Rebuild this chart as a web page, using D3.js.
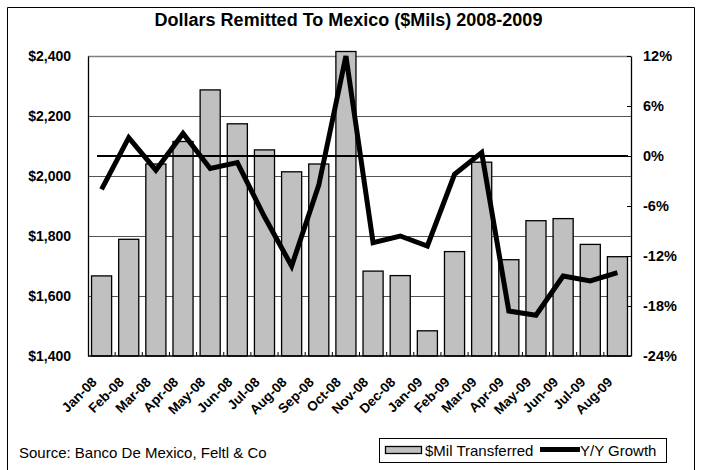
<!DOCTYPE html>
<html>
<head>
<meta charset="utf-8">
<script src="https://cdn.jsdelivr.net/npm/d3@7"></script>
<style>
  html, body { margin: 0; padding: 0; background: #fff; }
  svg { display: block; font-family: Arial, "Liberation Sans", sans-serif; }
</style>
</head>
<body>
<svg id="chart" width="701" height="470"></svg>
<script>
const months = ["Jan-08","Feb-08","Mar-08","Apr-08","May-08","Jun-08","Jul-08","Aug-08","Sep-08","Oct-08",
                "Nov-08","Dec-08","Jan-09","Feb-09","Mar-09","Apr-09","May-09","Jun-09","Jul-09","Aug-09"];
const transferred = [1667, 1789, 2040, 2115, 2287, 2174, 2087, 2014, 2040, 2415,
                     1683, 1668, 1484, 1748, 2046, 1721, 1851, 1858, 1772, 1731];
const yoyGrowth = [-4.0, 2.2, -1.7, 2.7, -1.5, -0.8, -7.3, -13.2, -3.5, 12.0,
                   -10.4, -9.6, -10.8, -2.2, 0.4, -18.6, -19.1, -14.4, -15.0, -14.0];
const leftTicks = [1400, 1600, 1800, 2000, 2200, 2400];
const rightTicks = [-24, -18, -12, -6, 0, 6, 12];

const FONT = "Arial, 'Liberation Sans', sans-serif";
const svg = d3.select("#chart");
const plot = { left: 88, right: 631, top: 56, bottom: 356 };

// outer frame
svg.append("path")
  .attr("d", "M7.5,480 V7.5 H694.5 V480")
  .attr("fill", "none").attr("stroke", "#000").attr("stroke-width", 1);

// title
svg.append("text")
  .attr("x", 348.5).attr("y", 26)
  .attr("text-anchor", "middle")
  .attr("font-size", 18).attr("font-weight", "bold")
  .text("Dollars Remitted To Mexico ($Mils) 2008-2009");

const x = d3.scaleBand().domain(months).range([plot.left, plot.right]).paddingInner(0.26).paddingOuter(0.13);
const xc = d => x(d) + x.bandwidth() / 2;
const yL = d3.scaleLinear().domain([1400, 2400]).range([plot.bottom, plot.top]);
const yR = d3.scaleLinear().domain([-24, 12]).range([plot.bottom, plot.top]);

// gridlines
svg.append("g").selectAll("line").data(leftTicks.filter(t => t > 1400))
  .join("line")
  .attr("x1", plot.left).attr("x2", plot.right)
  .attr("y1", d => Math.round(yL(d)) + 0.5).attr("y2", d => Math.round(yL(d)) + 0.5)
  .attr("stroke", d => d === 2400 ? "#808080" : "#555").attr("stroke-width", d => d === 2400 ? 1.5 : 1);

// bars
svg.append("g").selectAll("rect").data(months)
  .join("rect")
  .attr("x", d => x(d))
  .attr("width", x.bandwidth())
  .attr("y", (d, i) => yL(transferred[i]))
  .attr("height", (d, i) => plot.bottom - yL(transferred[i]))
  .attr("fill", "#c0c0c0").attr("stroke", "#000").attr("stroke-width", 1.3);

// zero line (right axis)
svg.append("line")
  .attr("x1", plot.left + 9).attr("x2", plot.right - 3)
  .attr("y1", yR(0)).attr("y2", yR(0))
  .attr("stroke", "#000").attr("stroke-width", 2);

// left axis
const axL = svg.append("g").attr("transform", `translate(${plot.left},0)`)
  .call(d3.axisLeft(yL).tickValues(leftTicks).tickSize(0).tickPadding(17)
        .tickFormat(d => "$" + d3.format(",")(d)));
axL.select(".domain").attr("stroke", "#000").attr("stroke-width", 1.3);
axL.selectAll("text").attr("font-size", 14).attr("font-weight", "bold").attr("font-family", FONT).attr("fill", "#000");

// right axis
const axR = svg.append("g").attr("transform", `translate(${plot.right},0)`)
  .call(d3.axisRight(yR).tickValues(rightTicks).tickSizeInner(-4).tickSizeOuter(0).tickPadding(12)
        .tickFormat(d => d + "%"));
axR.select(".domain").attr("stroke", "#000").attr("stroke-width", 1.3);
axR.selectAll(".tick line").attr("stroke", "#000");
axR.selectAll("text").attr("font-size", 14.5).attr("font-weight", "bold").attr("font-family", FONT).attr("fill", "#000");

// bottom axis
const step = x.step();
const axB = svg.append("g").attr("transform", `translate(0,${plot.bottom})`);
axB.append("line").attr("x1", plot.left).attr("x2", plot.right).attr("y1", 0).attr("y2", 0)
  .attr("stroke", "#000").attr("stroke-width", 1.5);
axB.selectAll("line.tk").data(months.slice(1)).join("line").attr("class", "tk")
  .attr("x1", d => x(d) - (step - x.bandwidth()) / 2).attr("x2", d => x(d) - (step - x.bandwidth()) / 2)
  .attr("y1", 0).attr("y2", -4).attr("stroke", "#000");
axB.selectAll("text").data(months).join("text")
  .attr("transform", d => `translate(${xc(d) - 4},${27}) rotate(-45)`)
  .attr("text-anchor", "end")
  .attr("font-size", 13.5).attr("font-weight", "bold")
  .text(d => d);

// growth line
const line = d3.line().x((d, i) => xc(months[i])).y(d => yR(d));
svg.append("path").datum(yoyGrowth)
  .attr("d", line)
  .attr("fill", "none").attr("stroke", "#000").attr("stroke-width", 5)
  .attr("stroke-linejoin", "miter");

// source
svg.append("text").attr("x", 19).attr("y", 458)
  .attr("font-size", 15).text("Source: Banco De Mexico, Feltl & Co");

// legend
const lg = svg.append("g");
lg.append("rect").attr("x", 379.5).attr("y", 438.5).attr("width", 287).attr("height", 24)
  .attr("fill", "#fff").attr("stroke", "#000");
lg.append("rect").attr("x", 385.5).attr("y", 446.5).attr("width", 36).attr("height", 7)
  .attr("fill", "#c0c0c0").attr("stroke", "#000").attr("stroke-width", 1.3);
lg.append("text").attr("x", 425).attr("y", 456).attr("font-size", 15).text("$Mil Transferred");
lg.append("line").attr("x1", 540).attr("x2", 580).attr("y1", 449.5).attr("y2", 449.5)
  .attr("stroke", "#000").attr("stroke-width", 5);
lg.append("text").attr("x", 580).attr("y", 456).attr("font-size", 15).text("Y/Y Growth");
</script>
</body>
</html>
